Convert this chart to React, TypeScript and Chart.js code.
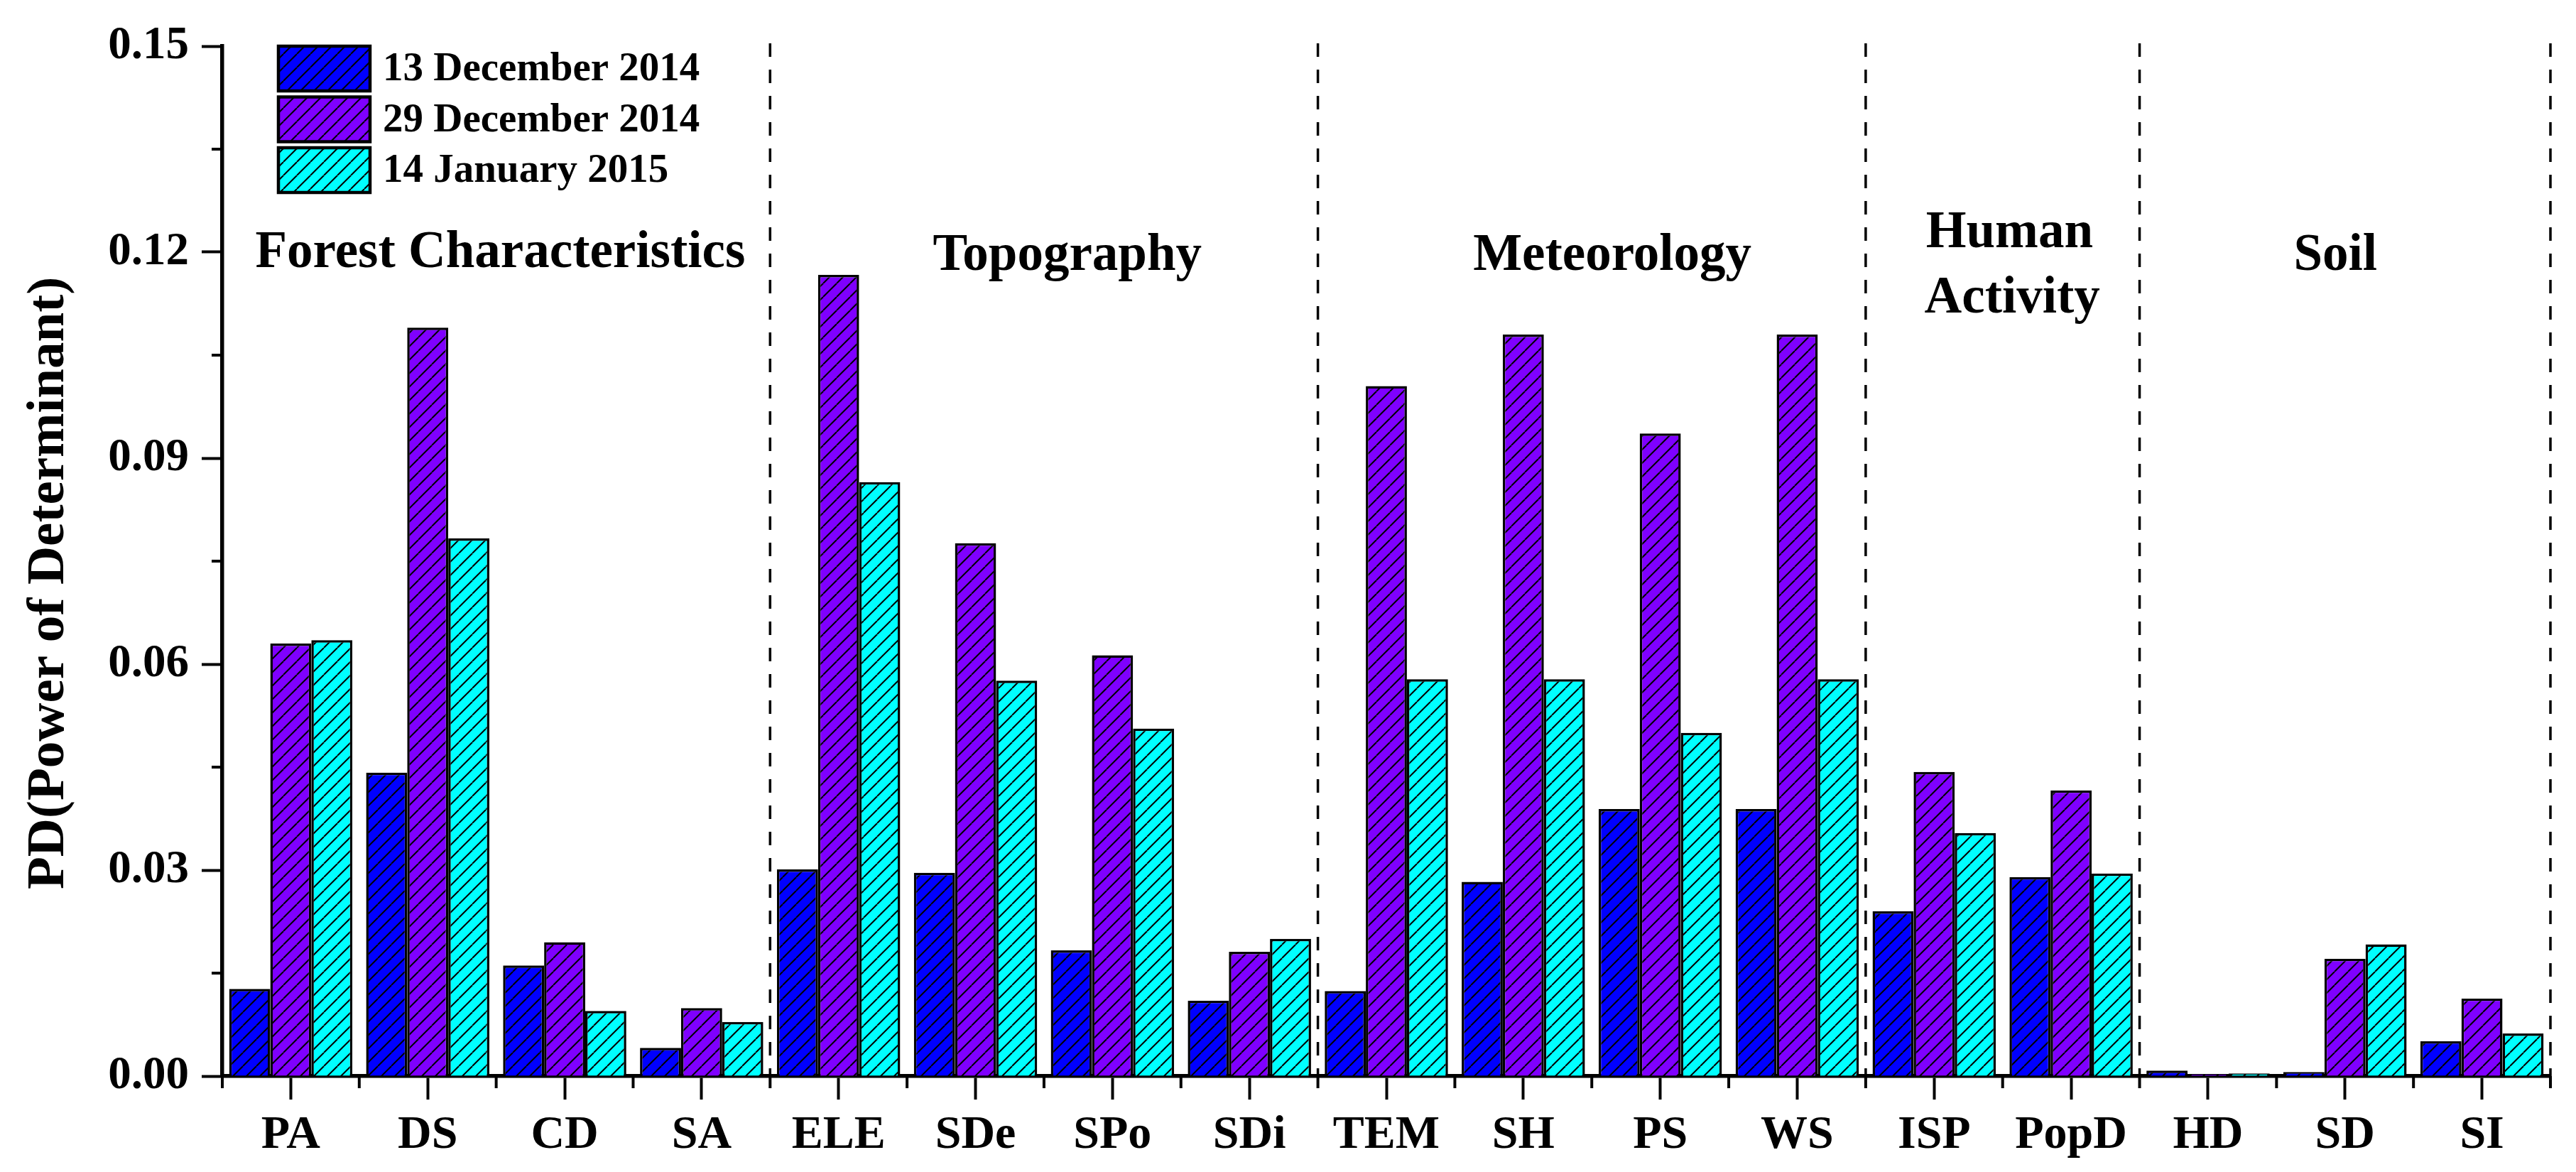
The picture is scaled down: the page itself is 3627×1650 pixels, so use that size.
import React, { useEffect, useRef } from 'react';
import { Chart, registerables } from 'chart.js';

Chart.register(...registerables);

const categories = ['PA', 'DS', 'CD', 'SA', 'ELE', 'SDe', 'SPo', 'SDi', 'TEM', 'SH', 'PS', 'WS', 'ISP', 'PopD', 'HD', 'SD', 'SI'];
const seriesNames = ['13 December 2014', '29 December 2014', '14 January 2015'];
const seriesColors = ['#0000ff', '#7f00ff', '#00ffff'];

const dec13 = [0.0127, 0.0442, 0.0161, 0.0041, 0.0301, 0.0296, 0.0183, 0.0110, 0.0124, 0.0283, 0.0389, 0.0389, 0.0240, 0.0290, 0.0008, 0.0006, 0.0051];
const dec29 = [0.0630, 0.1090, 0.0195, 0.0099, 0.1167, 0.0776, 0.0613, 0.0181, 0.1005, 0.1080, 0.0936, 0.1080, 0.0443, 0.0416, 0.0003, 0.0171, 0.0113];
const jan14 = [0.0635, 0.0783, 0.0095, 0.0079, 0.0865, 0.0576, 0.0506, 0.0200, 0.0578, 0.0578, 0.0500, 0.0578, 0.0354, 0.0295, 0.0004, 0.0192, 0.0062];

const yTicks = [0, 0.03, 0.06, 0.09, 0.12, 0.15];
const yMinorTicks = [0.015, 0.045, 0.075, 0.105, 0.135];
const yTitle = 'PD(Power of Determinant)';

// last category index of each group (dashed separators)
const groupEnds = [3, 7, 11, 13, 16];
// group titles: anchor = category index, value = baseline on y axis
const groupTitles = [
  { text: 'Forest Characteristics', at: 1.53, value: 0.1178 },
  { text: 'Topography', at: 5.67, value: 0.1174 },
  { text: 'Meteorology', at: 9.65, value: 0.1174 },
  { text: 'Human', at: 12.55, value: 0.1207 },
  { text: 'Activity', at: 12.57, value: 0.1112 },
  { text: 'Soil', at: 14.93, value: 0.1174 },
];

const FONT = "'Liberation Serif', 'Times New Roman', serif";

function hatch(color: string) {
  const w = 19;
  const h = 19;
  const c = document.createElement('canvas');
  c.width = w;
  c.height = h;
  const g = c.getContext('2d')!;
  g.fillStyle = color;
  g.fillRect(0, 0, w, h);
  g.strokeStyle = '#000';
  g.lineWidth = 2;
  for (let i = -1; i <= 1; i++) {
    g.beginPath();
    g.moveTo(i * w, h);
    g.lineTo((i + 1) * w, 0);
    g.stroke();
  }
  return g.createPattern(c, 'repeat')!;
}

const decorations = {
  id: 'decorations',
  beforeDatasetsDraw(chart: any) {
    const { ctx, chartArea } = chart;
    const x = chart.scales.x;
    const step = x.getPixelForValue(1) - x.getPixelForValue(0);
    ctx.save();
    ctx.strokeStyle = '#000';
    ctx.lineWidth = 3.5;
    ctx.setLineDash([19, 18]);
    groupEnds.forEach((i) => {
      const px = x.getPixelForValue(i) + step / 2;
      ctx.beginPath();
      ctx.moveTo(px, chartArea.top - 4);
      ctx.lineTo(px, chartArea.bottom);
      ctx.stroke();
    });
    ctx.restore();
  },
  afterDraw(chart: any) {
    const { ctx, chartArea } = chart;
    const x = chart.scales.x;
    const y = chart.scales.y;
    const step = x.getPixelForValue(1) - x.getPixelForValue(0);
    ctx.save();
    ctx.strokeStyle = '#000';
    ctx.lineWidth = 4;
    // minor ticks on x at category boundaries
    for (let i = 0; i <= categories.length; i++) {
      const px = x.getPixelForValue(0) - step / 2 + i * step;
      ctx.beginPath();
      ctx.moveTo(px, chartArea.bottom);
      ctx.lineTo(px, chartArea.bottom + 17);
      ctx.stroke();
    }
    // minor ticks on y
    yMinorTicks.forEach((v) => {
      const py = y.getPixelForValue(v);
      ctx.beginPath();
      ctx.moveTo(chartArea.left - 15, py);
      ctx.lineTo(chartArea.left, py);
      ctx.stroke();
    });

    ctx.fillStyle = '#000';

    // y axis title
    ctx.save();
    ctx.font = `bold 75px ${FONT}`;
    ctx.textAlign = 'center';
    ctx.textBaseline = 'middle';
    ctx.translate(70, y.getPixelForValue(0.0718));
    ctx.rotate(-Math.PI / 2);
    ctx.fillText(yTitle, 0, 0);
    ctx.restore();

    // group titles
    ctx.font = `bold 73px ${FONT}`;
    ctx.textAlign = 'center';
    ctx.textBaseline = 'alphabetic';
    groupTitles.forEach((t) => {
      ctx.fillText(t.text, x.getPixelForValue(t.at), y.getPixelForValue(t.value));
    });

    // legend
    const lx = chartArea.left + 79;
    const boxW = 129;
    const boxH = 63;
    const rowGap = 71.5;
    ctx.font = `bold 57px ${FONT}`;
    ctx.textAlign = 'left';
    ctx.textBaseline = 'middle';
    chart.data.datasets.forEach((ds: any, i: number) => {
      const ty = chartArea.top + i * rowGap;
      ctx.fillStyle = ds.backgroundColor;
      ctx.fillRect(lx, ty, boxW, boxH);
      ctx.lineWidth = 4.5;
      ctx.strokeRect(lx, ty, boxW, boxH);
      ctx.fillStyle = '#000';
      ctx.fillText(ds.label, lx + boxW + 18, ty + boxH / 2 + 2);
    });
    ctx.restore();
  },
};

export default function App() {
  const canvasRef = useRef<HTMLCanvasElement | null>(null);

  useEffect(() => {
    if (!canvasRef.current) return;
    const values = [dec13, dec29, jan14];
    const chart = new Chart(canvasRef.current, {
      type: 'bar',
      data: {
        labels: categories,
        datasets: seriesNames.map((name, i) => ({
          label: name,
          data: values[i],
          backgroundColor: hatch(seriesColors[i]),
          borderColor: '#000',
          borderWidth: 3.5,
          borderSkipped: 'bottom',
          categoryPercentage: 0.9,
          barPercentage: 1.0,
        })),
      },
      options: {
        animation: false,
        responsive: false,
        devicePixelRatio: 1,
        layout: { padding: { left: 0, right: 36, top: 65, bottom: 0 } },
        plugins: {
          legend: { display: false },
          tooltip: { enabled: false },
        },
        scales: {
          x: {
            type: 'category',
            offset: true,
            grid: {
              offset: false,
              drawOnChartArea: false,
              drawTicks: true,
              tickLength: 33,
              tickWidth: 4,
              color: '#000',
            },
            border: { display: true, width: 5.5, color: '#000' },
            ticks: {
              color: '#000',
              font: { family: FONT, weight: 'bold', size: 66 },
              padding: 11,
              maxRotation: 0,
              autoSkip: false,
            },
            afterFit: (s: any) => {
              s.height = 135;
            },
          },
          y: {
            min: 0,
            max: 0.15,
            afterBuildTicks: (s: any) => {
              s.ticks = yTicks.map((v) => ({ value: v }));
            },
            grid: {
              drawOnChartArea: false,
              tickLength: 29,
              tickWidth: 4,
              color: '#000',
            },
            border: { display: true, width: 5.5, color: '#000' },
            ticks: {
              color: '#000',
              font: { family: FONT, weight: 'bold', size: 65 },
              padding: 18,
              callback: (v: any) => Number(v).toFixed(2),
            },
            afterFit: (s: any) => {
              s.width = 313;
            },
          },
        },
      },
      plugins: [decorations],
    });
    return () => {
      chart.destroy();
    };
  }, []);

  return (
    <div style={{ position: 'fixed', left: 0, top: 0, width: 3627, height: 1650, background: '#fff' }}>
      <canvas ref={canvasRef} width={3627} height={1650} />
    </div>
  );
}
